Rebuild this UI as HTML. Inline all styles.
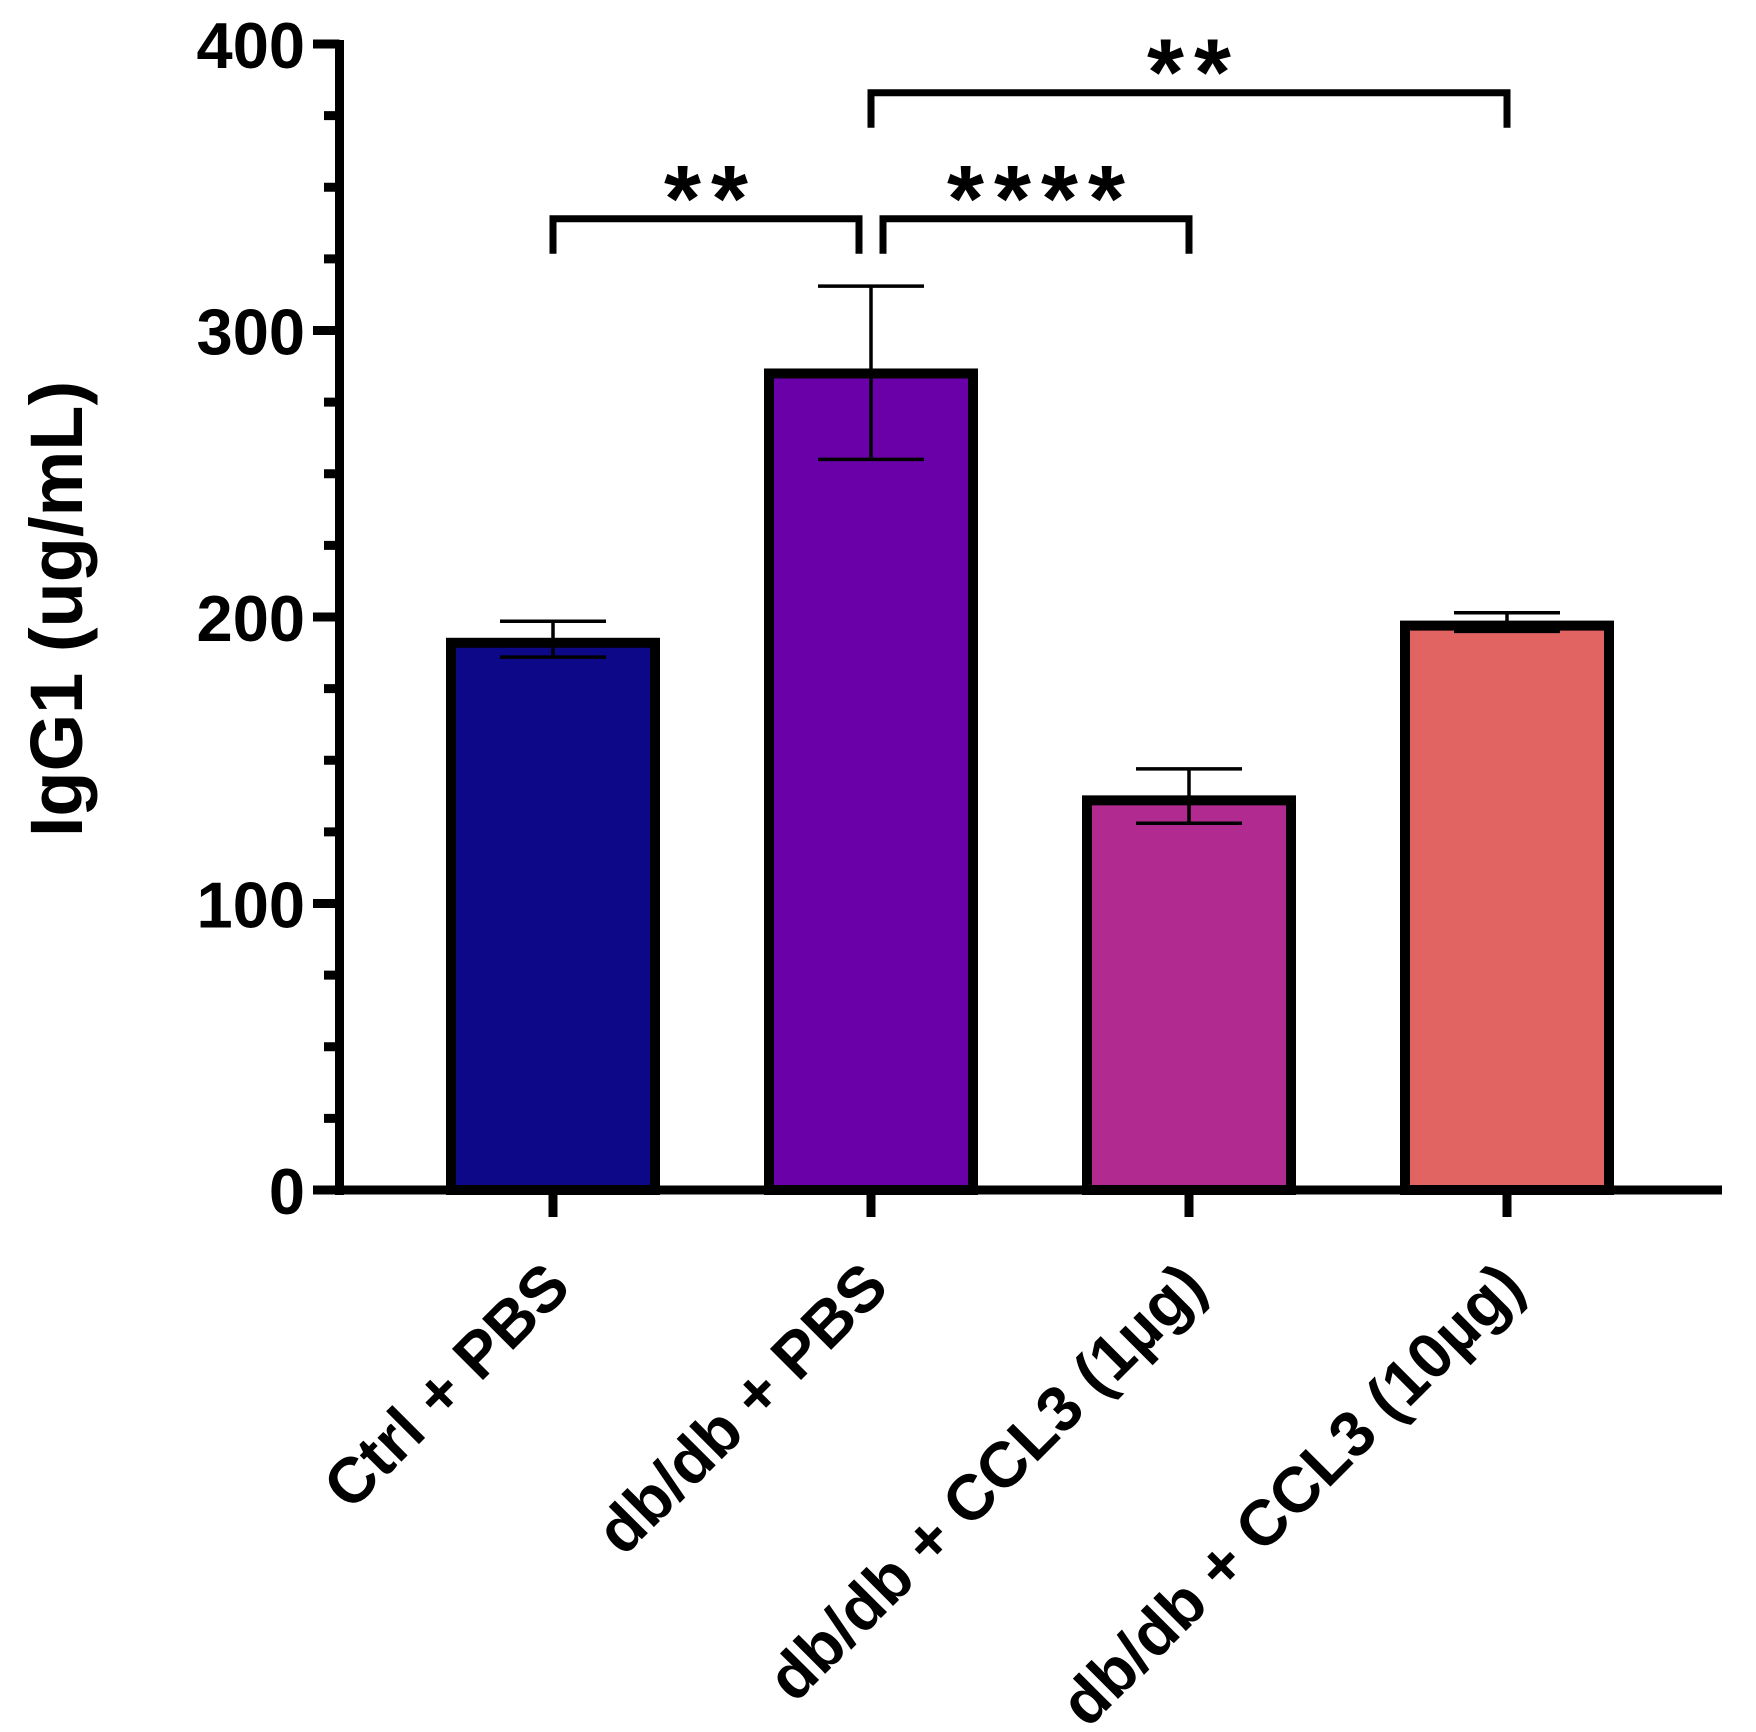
<!DOCTYPE html>
<html><head><meta charset="utf-8"><style>
html,body{margin:0;padding:0;background:#fff;}
svg{display:block;}
text{font-family:"Liberation Sans",Arial,sans-serif;font-weight:bold;fill:#000;}
</style></head><body>
<svg id="chart" width="1756" height="1732" viewBox="0 0 1756 1732" xmlns="http://www.w3.org/2000/svg"></svg>
<script>
const categories = ["Ctrl + PBS", "db/db + PBS", "db/db + CCL3 (1µg)", "db/db + CCL3 (10µg)"];
const means = [191, 285, 136, 197];
const errLow = [186, 255, 128, 195];
const errHigh = [198.5, 315.5, 147, 201.5];
const colors = ["#0d0887", "#6a00a8", "#b12a90", "#e16462"];
const yTicks = [0, 100, 200, 300, 400];
const yMinorTicks = [25, 50, 75, 125, 150, 175, 225, 250, 275, 325, 350, 375];
const sigFrom = [0, 1, 1];
const sigTo = [1, 2, 3];
const sigLevel = [339, 339, 383];
const sigLabel = ["**", "****", "**"];

const svg = document.getElementById('chart');
const NS = "http://www.w3.org/2000/svg";
const y0 = 1190, yTop = 44, yMax = 400;
const xAxisX = 339.5, firstX = 553, stepX = 318, barW = 204;
function yScale(v){ return y0 - (v / yMax) * (y0 - yTop); }
function xScale(i){ return firstX + i * stepX; }
function mk(tag, attrs, parent){
  const e = document.createElementNS(NS, tag);
  for (const k in attrs) e.setAttribute(k, attrs[k]);
  (parent || svg).appendChild(e);
  return e;
}

categories.forEach((c, i) => {
  const top = yScale(means[i]);
  const r = mk('rect', {x: xScale(i) - barW/2, y: top, width: barW, height: y0 - top, fill: colors[i], stroke: '#000', 'stroke-width': 10});
  
  
});
categories.forEach((c, i) => {
  const g = mk('g', {stroke: '#000', 'stroke-width': 3.5});
  
  
  const cx = xScale(i), yl = yScale(errLow[i]), yh = yScale(errHigh[i]);
  mk('line', {x1: cx, x2: cx, y1: yl, y2: yh}, g);
  mk('line', {x1: cx - 53, x2: cx + 53, y1: yl, y2: yl}, g);
  mk('line', {x1: cx - 53, x2: cx + 53, y1: yh, y2: yh}, g);
});
const ya = mk('line', {x1: xAxisX, x2: xAxisX, y1: yTop - 4, y2: y0 + 5, stroke: '#000', 'stroke-width': 9});


yTicks.forEach(v => {
  const t = mk('line', {x1: 313, x2: xAxisX, y1: yScale(v), y2: yScale(v), stroke: '#000', 'stroke-width': 9});
  
  
  const l = mk('text', {x: 305, y: yScale(v) + 24, 'text-anchor': 'end', 'font-size': 65});
  l.textContent = v;
  
  
});
yMinorTicks.forEach(v => {
  const t = mk('line', {x1: 324, x2: xAxisX, y1: yScale(v), y2: yScale(v), stroke: '#000', 'stroke-width': 9});
  
  
});
const xa = mk('line', {x1: 313, x2: 1722, y1: y0, y2: y0, stroke: '#000', 'stroke-width': 9});


categories.forEach((c, i) => {
  const t = mk('line', {x1: xScale(i), x2: xScale(i), y1: y0, y2: 1217, stroke: '#000', 'stroke-width': 9});
  
  
  const lx = xScale(i) + 20, ly = 1290;
  const l = mk('text', {x: lx, y: ly, 'text-anchor': 'end', 'font-size': 64, transform: `rotate(-45 ${lx} ${ly})`});
  l.textContent = c;
  
  
});
const yt = mk('text', {x: 82, y: 609, 'text-anchor': 'middle', 'font-size': 74, transform: 'rotate(-90 82 609)'});
yt.textContent = 'IgG1 (ug/mL)';


sigFrom.forEach((a, k) => {
  const b = sigTo[k];
  let xa1 = xScale(a), xb1 = xScale(b);
  if (k === 0) xb1 -= 12;
  if (k === 1) xa1 += 12;
  const yb = yScale(sigLevel[k]);
  const g = mk('g', {});
  
  
  mk('polyline', {points: `${xa1},${yb+35} ${xa1},${yb} ${xb1},${yb} ${xb1},${yb+35}`, fill: 'none', stroke: '#000', 'stroke-width': 7}, g);
  const t = mk('text', {x: (xa1 + xb1)/2 + 5, y: yb + 12, 'text-anchor': 'middle', 'font-size': 95, 'letter-spacing': 10}, g);
  t.textContent = sigLabel[k];
  
  
});
</script>
</body></html>
